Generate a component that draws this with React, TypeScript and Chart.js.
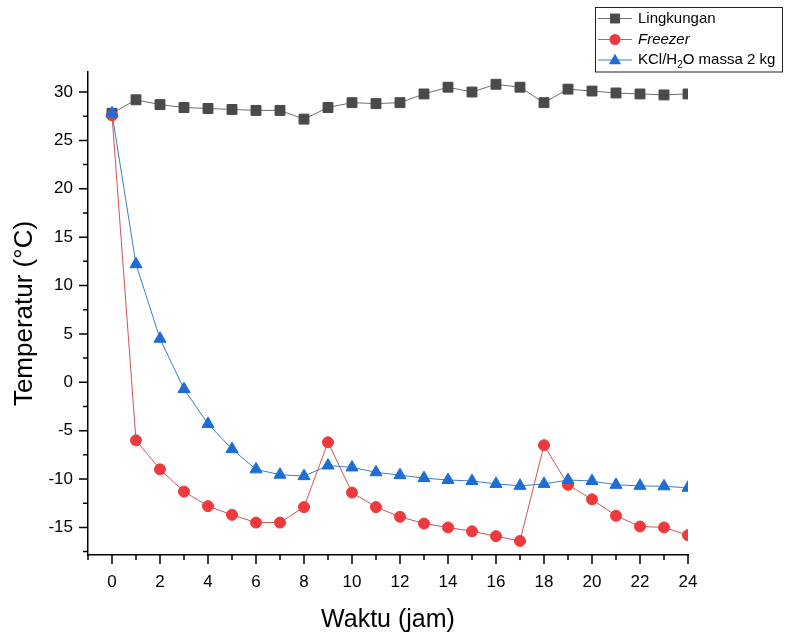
import React, { useEffect, useRef } from 'react';
import { Chart, registerables } from 'chart.js';

Chart.register(...registerables);

// ---- data ----
const HOURS = [0, 1, 2, 3, 4, 5, 6, 7, 8, 9, 10, 11, 12, 13, 14, 15, 16, 17, 18, 19, 20, 21, 22, 23, 24];
const SERIES_NAMES = ['Lingkungan', 'Freezer', 'KCl/H₂O massa 2 kg'];
const SERIES_ITALIC = [false, true, false];
const LINGKUNGAN = [27.8, 29.2, 28.7, 28.4, 28.3, 28.2, 28.1, 28.1, 27.2, 28.4, 28.9, 28.8, 28.9, 29.8, 30.5, 30.0, 30.8, 30.5, 28.9, 30.3, 30.1, 29.9, 29.8, 29.7, 29.8];
const FREEZER = [27.6, -6.0, -9.0, -11.3, -12.8, -13.7, -14.5, -14.5, -12.9, -6.2, -11.4, -12.9, -13.9, -14.6, -15.0, -15.4, -15.9, -16.4, -6.5, -10.6, -12.1, -13.8, -14.9, -15.0, -15.8];
const KCL = [27.8, 12.2, 4.5, -0.7, -4.3, -6.9, -9.0, -9.55, -9.7, -8.6, -8.8, -9.3, -9.6, -9.9, -10.1, -10.2, -10.5, -10.7, -10.5, -10.1, -10.2, -10.6, -10.7, -10.75, -10.9];

const X_TICKS = [0, 2, 4, 6, 8, 10, 12, 14, 16, 18, 20, 22, 24];
const X_MINOR = [-1, 1, 3, 5, 7, 9, 11, 13, 15, 17, 19, 21, 23];
const Y_TICKS = [-15, -10, -5, 0, 5, 10, 15, 20, 25, 30];
const Y_MINOR = [-17.5, -12.5, -7.5, -2.5, 2.5, 7.5, 12.5, 17.5, 22.5, 27.5];
const X_MIN = -1;
const X_MAX = 24;
const Y_MIN = -17.85;
const Y_MAX = 32.07;
const X_TITLE = 'Waktu (jam)';
const Y_TITLE = 'Temperatur (°C)';

// ---- styles ----
const FONT = "'Liberation Sans', Arial, sans-serif";
const STYLES = [
  { line: '#707070', fill: '#4a4a4a', shape: 'rect', radius: 7 },
  { line: '#d25454', fill: '#ee3a3c', shape: 'circle', radius: 5.5 },
  { line: '#3b7fc4', fill: '#1c6dd6', shape: 'triangle', radius: 7 },
];

function drawMarker(ctx: CanvasRenderingContext2D, shape: string, x: number, y: number, r: number, color: string) {
  ctx.fillStyle = color;
  ctx.beginPath();
  if (shape === 'rect') {
    const s = Math.SQRT1_2 * r;
    ctx.rect(x - s, y - s, 2 * s, 2 * s);
  } else if (shape === 'circle') {
    ctx.arc(x, y, r, 0, Math.PI * 2);
  } else {
    const h = r * 1.5;
    const w = r * Math.sqrt(3);
    ctx.moveTo(x, y - h * 0.6);
    ctx.lineTo(x + w / 2, y + h * 0.4);
    ctx.lineTo(x - w / 2, y + h * 0.4);
    ctx.closePath();
  }
  ctx.fill();
}

const tickPlugin = {
  id: 'originTicks',
  afterDraw(chart: any) {
    const { ctx, chartArea, scales } = chart;
    const x = scales.x;
    const y = scales.y;
    ctx.save();
    ctx.strokeStyle = '#000';
    ctx.lineWidth = 1.5;
    ctx.beginPath();
    const yLine = (v: number, len: number) => {
      if (v < Y_MIN || v > Y_MAX) return;
      const py = y.getPixelForValue(v);
      ctx.moveTo(chartArea.left, py);
      ctx.lineTo(chartArea.left - len, py);
    };
    const xLine = (v: number, len: number) => {
      if (v < X_MIN || v > X_MAX) return;
      const px = x.getPixelForValue(v);
      ctx.moveTo(px, chartArea.bottom);
      ctx.lineTo(px, chartArea.bottom + len);
    };
    Y_TICKS.forEach((v) => yLine(v, 9));
    Y_MINOR.forEach((v) => yLine(v, 5));
    X_TICKS.forEach((v) => xLine(v, 9));
    X_MINOR.forEach((v) => xLine(v, 5));
    ctx.stroke();
    ctx.restore();
  },
};

function segmentsOf(label: string) {
  const parts = label.split('₂');
  const segs: { text: string; sub: boolean }[] = [];
  parts.forEach((p, i) => {
    if (i > 0) segs.push({ text: '2', sub: true });
    if (p) segs.push({ text: p, sub: false });
  });
  return segs;
}

const legendPlugin = {
  id: 'boxLegend',
  afterDraw(chart: any) {
    const { ctx } = chart;
    const boxX = 595.5;
    const boxY = 7.5;
    const boxW = 187;
    const boxH = 64.5;
    ctx.save();
    ctx.fillStyle = '#fff';
    ctx.fillRect(boxX, boxY, boxW, boxH);
    ctx.strokeStyle = '#222';
    ctx.lineWidth = 1;
    ctx.strokeRect(boxX, boxY, boxW, boxH);
    const rowY = [18.5, 39.5, 60];
    SERIES_NAMES.forEach((name, i) => {
      const st = STYLES[i];
      const cy = rowY[i];
      ctx.strokeStyle = st.line;
      ctx.lineWidth = 1;
      ctx.beginPath();
      ctx.moveTo(598, cy);
      ctx.lineTo(632, cy);
      ctx.stroke();
      drawMarker(ctx, st.shape, 615, cy, st.radius, st.fill);
      let tx = 638;
      ctx.fillStyle = '#000';
      ctx.textBaseline = 'middle';
      ctx.textAlign = 'left';
      segmentsOf(name).forEach((seg) => {
        const italic = SERIES_ITALIC[i] ? 'italic ' : '';
        if (seg.sub) {
          ctx.font = `${italic}10px ${FONT}`;
          ctx.fillText(seg.text, tx, cy + 5);
        } else {
          ctx.font = `${italic}15px ${FONT}`;
          ctx.fillText(seg.text, tx, cy);
        }
        tx += ctx.measureText(seg.text).width;
      });
    });
    ctx.restore();
  },
};

function makeDataset(i: number, values: number[], order: number) {
  const st = STYLES[i];
  return {
    label: SERIES_NAMES[i],
    data: HOURS.map((h, k) => ({ x: h, y: values[k] })),
    borderColor: st.line,
    borderWidth: 1,
    backgroundColor: st.fill,
    pointBackgroundColor: st.fill,
    pointBorderColor: st.fill,
    pointBorderWidth: 1,
    pointStyle: st.shape,
    pointRadius: st.radius,
    pointHoverRadius: st.radius,
    tension: 0,
    fill: false,
    clip: 0,
    order,
  };
}

export default function App() {
  const ref = useRef<HTMLCanvasElement | null>(null);
  useEffect(() => {
    if (!ref.current) return;
    const chart = new Chart(ref.current, {
      type: 'line',
      data: {
        datasets: [
          makeDataset(0, LINGKUNGAN, 3),
          makeDataset(1, FREEZER, 2),
          makeDataset(2, KCL, 1),
        ] as any,
      },
      options: {
        responsive: false,
        animation: false,
        devicePixelRatio: 1,
        font: { family: FONT },
        layout: { padding: { left: 0, right: 101, top: 72, bottom: 0 } },
        plugins: { legend: { display: false }, tooltip: { enabled: false } },
        scales: {
          x: {
            type: 'linear',
            min: X_MIN,
            max: X_MAX,
            afterBuildTicks: (s: any) => {
              s.ticks = X_TICKS.map((v) => ({ value: v }));
            },
            afterFit: (s: any) => {
              s.height = 81;
              s.paddingLeft = 0;
              s.paddingRight = 0;
            },
            grid: { display: true, drawOnChartArea: false, drawTicks: false },
            border: { display: true, color: '#000', width: 1.5 },
            ticks: { color: '#000', font: { family: FONT, size: 17 }, padding: 17, maxRotation: 0, autoSkip: false },
            title: { display: true, text: X_TITLE, color: '#000', font: { family: FONT, size: 25 }, padding: { top: 0, bottom: 1 } },
          },
          y: {
            type: 'linear',
            min: Y_MIN,
            max: Y_MAX,
            afterBuildTicks: (s: any) => {
              s.ticks = Y_TICKS.map((v) => ({ value: v }));
            },
            afterFit: (s: any) => {
              s.width = 88;
              s.paddingTop = 0;
              s.paddingBottom = 0;
            },
            grid: { display: true, drawOnChartArea: false, drawTicks: false },
            border: { display: true, color: '#000', width: 1.5 },
            ticks: { color: '#000', font: { family: FONT, size: 17 }, padding: 15, autoSkip: false },
            title: { display: true, text: Y_TITLE, color: '#000', font: { family: FONT, size: 26 }, padding: { top: 9, bottom: 0 } },
          },
        },
      } as any,
      plugins: [tickPlugin, legendPlugin],
    });
    return () => chart.destroy();
  }, []);
  return (
    <div style={{ position: 'fixed', left: 0, top: 0, width: 789, height: 636, background: '#fff' }}>
      <canvas ref={ref} width={789} height={636} style={{ display: 'block' }} />
    </div>
  );
}
